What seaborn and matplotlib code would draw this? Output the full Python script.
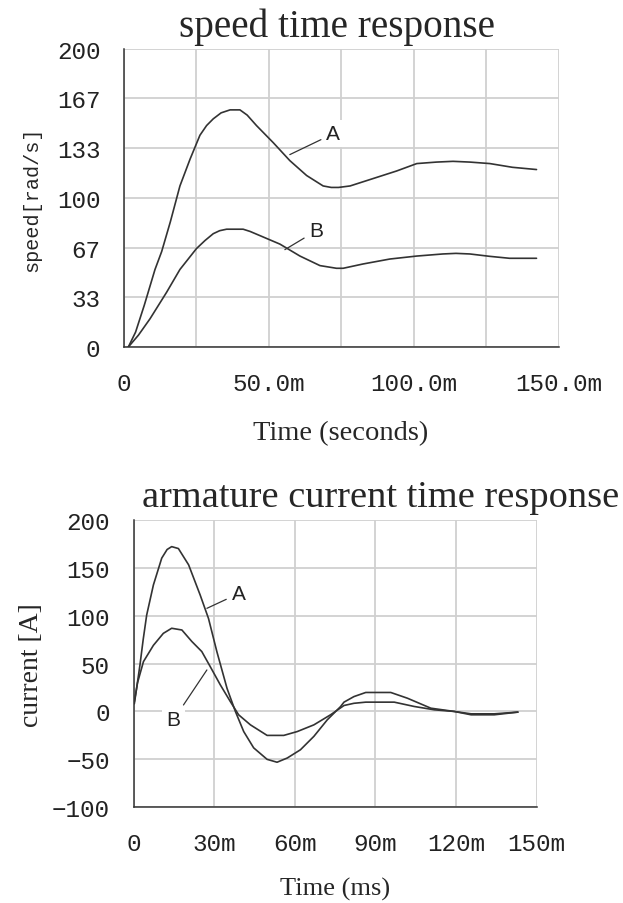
import numpy as np
import pandas as pd
import matplotlib
matplotlib.use("Agg")
import matplotlib.pyplot as plt
import seaborn as sns

# speed time response, time in ms
speed_t_a = [1.5, 4, 7, 10.7, 13, 16, 19.3, 22.8, 26.2, 28.5, 30.8, 33.5, 36.6, 40, 42.5,
             45.7, 51.5, 57.2, 63, 68.7, 71.5, 74, 78, 86, 94, 101, 107.8, 113.5, 119.3,
             126.2, 134, 142.3]
speed_a = [0, 10, 28, 52, 64, 84, 108, 126, 142, 148.5, 153, 157, 159, 159, 155.5,
           148.5, 137, 125, 115, 108, 107, 107, 108, 113, 118, 123, 124, 124.5, 124,
           123, 120.5, 119]
speed_t_b = [1.5, 5, 9, 14.7, 19.3, 25, 28, 30.8, 33, 35.4, 41.1, 43.5, 46.9, 53.8,
             60.7, 67.6, 73.3, 75.6, 82.5, 91.7, 101, 110, 114.5, 119.3, 126.2, 133, 142.3]
speed_b = [0, 8, 19, 36.7, 52, 66, 71.5, 76, 78, 79, 79, 77.5, 74.7, 69,
           61, 54.6, 52.8, 52.8, 55.7, 59, 61, 62.4, 62.8, 62.4, 60.8, 59.5, 59.5]

# armature current time response, time in ms
cur_t_a = [0.3, 1.2, 2.4, 3.6, 4.9, 7.4, 10.5, 12.5, 14.2, 16.7, 20.5, 24.8, 27.9,
           31, 34.8, 37.9, 41, 44.7, 49.7, 53.4, 57.2, 62.1, 67.1, 72.1, 77,
           78.3, 82, 86.4, 95.7, 101.9, 110.6, 119.3, 125.6, 134.2, 143]
cur_a = [8, 25, 48.5, 75, 100.6, 132, 160, 169, 172, 170, 153, 121.5, 97,
         62.5, 24, 0, -21, -38, -50, -53, -48.6, -40, -26, -8.7, 5,
         9.7, 15.5, 19.8, 19.8, 13.8, 3.4, 0, -3.5, -3.5, -0.7]
cur_t_b = [0.3, 1.5, 3.7, 7.4, 11.1, 14.2, 18, 21.7, 25.4, 28.5, 32.3, 36, 39.1,
           43.5, 49.7, 55.9, 60.9, 67.1, 73.3, 78.3, 82, 86.4, 97, 104.4, 111.9,
           119.3, 125.6, 134.2, 143]
cur_b = [10, 30, 52, 69, 81.5, 86.8, 85, 73, 62.5, 47, 27.7, 10.4, -3.5,
         -14, -25, -25, -21, -14, -3.5, 6.2, 8.5, 9.7, 9.7, 5.2, 1.7,
         0, -2.5, -2.5, -0.7]

speed_xticks = [0, 50, 100, 150]
speed_xlabels = ["0", "50.0m", "100.0m", "150.0m"]
speed_yticks = [0, 200 / 6, 400 / 6, 100, 800 / 6, 1000 / 6, 200]
speed_ylabels = ["0", "33", "67", "100", "133", "167", "200"]
cur_xticks = [0, 30, 60, 90, 120, 150]
cur_xlabels = ["0", "30m", "60m", "90m", "120m", "150m"]
cur_yticks = [-100, -50, 0, 50, 100, 150, 200]

sns.set_style("white")
plt.rcParams["font.family"] = ["Liberation Serif", "DejaVu Serif"]

line_col = "#333333"
grid_col = "#d0d0d0"
mono = "Liberation Mono"
serif = "Liberation Serif"

fig = plt.figure(figsize=(6.23, 9.04), dpi=100)
ax1 = fig.add_axes([0.199, 0.615, 0.698, 0.330])
ax2 = fig.add_axes([0.2143, 0.1059, 0.6472, 0.318])


def style_axes(ax):
    for s in ["top", "right"]:
        ax.spines[s].set_visible(False)
    for s in ["left", "bottom"]:
        ax.spines[s].set_color("#333333")
        ax.spines[s].set_linewidth(1.1)
    ax.grid(True, which="both", color=grid_col, lw=1.3, zorder=0)
    ax.tick_params(axis="both", which="major", direction="out", length=8,
                   width=1.1, color="#333333", labelsize=17.5, labelcolor="#222222")
    ax.tick_params(axis="x", which="major", pad=10)
    ax.tick_params(axis="y", which="major", pad=9)
    ax.tick_params(which="minor", length=0)
    for lab in ax.get_xticklabels() + ax.get_yticklabels():
        lab.set_family(mono)
    ax.set_axisbelow(True)


def label(ax, txt, xy, xytext):
    ax.annotate(txt, xy=xy, xytext=xytext, ha="center", va="center",
                fontsize=15, family="Liberation Sans", color="#222222",
                bbox=dict(boxstyle="square,pad=0.2", fc="white", ec="none"),
                arrowprops=dict(arrowstyle="-", color="#333333", lw=0.9,
                                shrinkA=1, shrinkB=0))


# speed plot
sns.lineplot(x=speed_t_a, y=speed_a, ax=ax1, color=line_col, lw=1.2)
sns.lineplot(x=speed_t_b, y=speed_b, ax=ax1, color=line_col, lw=1.2)
ax1.set_xlim(0, 150)
ax1.set_ylim(0, 200)
ax1.set_xticks(speed_xticks)
ax1.set_xticklabels(speed_xlabels)
ax1.set_xticks([25, 75, 125], minor=True)
ax1.set_yticks(speed_yticks)
ax1.set_yticklabels(speed_ylabels)
style_axes(ax1)
ax1.set_title("speed time response", fontsize=28.3, family=serif, pad=0,
              x=0.49, y=1.0436, ha="center", va="baseline")
ax1.set_xlabel("Time (seconds)", fontsize=20.5, family=serif, va="baseline")
ax1.xaxis.set_label_coords(0.499, -0.3087)
ax1.set_ylabel("speed[rad/s]", fontsize=14.5, family=mono, va="center")
ax1.yaxis.set_label_coords(-0.2115, 0.498)
label(ax1, "A", (57.2, 129), (72.2, 143))
label(ax1, "B", (55.5, 65.3), (66.4, 78))

# current plot
sns.lineplot(x=cur_t_a, y=cur_a, ax=ax2, color=line_col, lw=1.2)
sns.lineplot(x=cur_t_b, y=cur_b, ax=ax2, color=line_col, lw=1.2)
ax2.set_xlim(0, 150)
ax2.set_ylim(-100, 200)
ax2.set_xticks(cur_xticks)
ax2.set_xticklabels(cur_xlabels)
ax2.set_yticks(cur_yticks)
style_axes(ax2)
ax2.set_title("armature current time response", fontsize=27.6, family=serif, pad=0,
              x=0.0203, y=1.0476, ha="left", va="baseline")
ax2.set_xlabel("Time (ms)", fontsize=19, family=serif, va="baseline")
ax2.xaxis.set_label_coords(0.4998, -0.305)
ax2.set_ylabel("current [A]", fontsize=20, family=serif, va="center")
ax2.yaxis.set_label_coords(-0.254, 0.498)
label(ax2, "A", (27.3, 107.6), (39.1, 123))
label(ax2, "B", (27.3, 43.3), (14.9, -8.7))

fig.savefig("out.png", dpi=100)
